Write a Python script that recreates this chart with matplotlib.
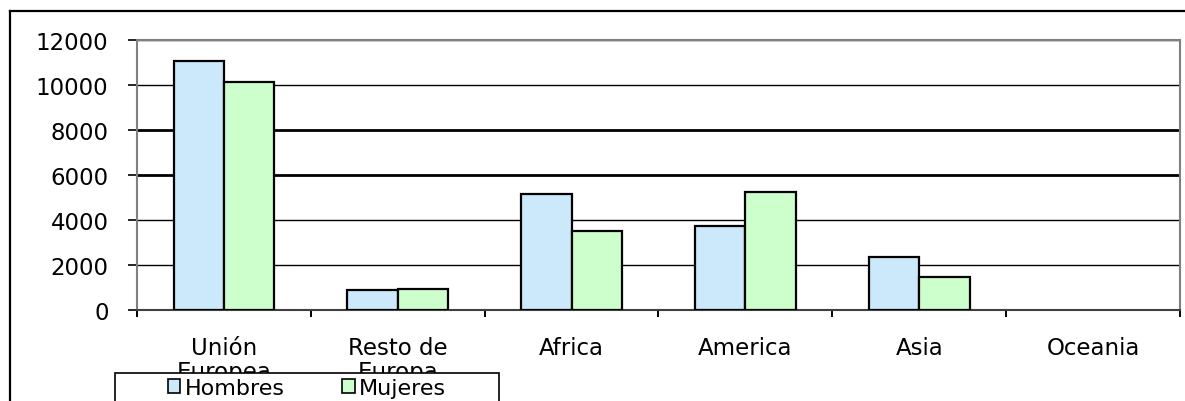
import numpy as np
import matplotlib.pyplot as plt
from matplotlib.patches import Rectangle
from matplotlib.lines import Line2D

categorias = ["Unión\nEuropea", "Resto de\nEuropa", "Africa", "America", "Asia", "Oceania"]
hombres = [11070, 880, 5170, 3730, 2340, 0]
mujeres = [10150, 930, 3500, 5230, 1450, 0]
yticks = [0, 2000, 4000, 6000, 8000, 10000, 12000]

W, H = 1185, 402
fig = plt.figure(figsize=(W / 100, H / 100), dpi=100)
fig.patch.set_facecolor("white")

# outer chart frame (cut off at right and bottom)
fig.add_artist(Line2D([10 / W, 10 / W], [0, 1 - 12 / H], color="black", lw=1.6))
fig.add_artist(Line2D([10 / W, 1], [1 - 12 / H, 1 - 12 / H], color="black", lw=1.6))

ax = fig.add_axes([137 / W, 1 - 311 / H, (1180 - 137) / W, (311 - 41) / H])
x = np.arange(len(categorias))
w = 0.29
ax.bar(x - w / 2, hombres, w, color="#cce8fb", edgecolor="black",
       lw=[1.6 if v > 0 else 0 for v in hombres], zorder=3)
ax.bar(x + w / 2, mujeres, w, color="#ccffcc", edgecolor="black",
       lw=[1.6 if v > 0 else 0 for v in mujeres], zorder=3)

ax.set_xlim(-0.5, len(categorias) - 0.5)
ax.set_ylim(0, 12000)
ax.set_yticks(yticks)
ax.set_yticklabels([str(v) for v in yticks], fontsize=16.5, family="DejaVu Sans")
ax.yaxis.grid(True, color="black", lw=1.0, zorder=1)
for i, g in enumerate(ax.get_ygridlines()):
    if yticks[i] in (6000, 8000):
        g.set_linewidth(2.0)
ax.tick_params(axis="y", length=6.5, width=1.2, pad=14, color="black")

ax.set_xticks(x)
ax.set_xticklabels(categorias, fontsize=16.5, linespacing=1.05, family="DejaVu Sans")
ax.set_xticks(np.arange(len(categorias) + 1) - 0.5, minor=True)
ax.tick_params(axis="x", which="major", length=0, pad=19)
ax.tick_params(axis="x", which="minor", length=5, width=1.4, color="black")

for s in ["top", "right", "left"]:
    ax.spines[s].set_color("#808080")
    ax.spines[s].set_linewidth(1.5)
ax.spines["bottom"].set_color("#404040")
ax.spines["bottom"].set_linewidth(1.5)

# legend box covering the second line of the category labels
fig.add_artist(Rectangle((115 / W, 1 - 410 / H), (499 - 115) / W, (410 - 374) / H,
                         transform=fig.transFigure, facecolor="white",
                         edgecolor="black", lw=1.2, zorder=10))
handles = [Rectangle((0, 0), 1, 1, facecolor="#cce8fb", edgecolor="black", lw=1.2),
           Rectangle((0, 0), 1, 1, facecolor="#ccffcc", edgecolor="black", lw=1.2)]
leg = fig.legend(handles, ["Hombres", "Mujeres"], loc="center",
                 bbox_to_anchor=(307 / W, 1 - 389 / H), ncol=2, frameon=False,
                 fontsize=16, handlelength=0.55, handleheight=0.55, handletextpad=0.2,
                 columnspacing=2.6, borderpad=0)
leg.set_zorder(11)

fig.savefig("out.png", dpi=100)
